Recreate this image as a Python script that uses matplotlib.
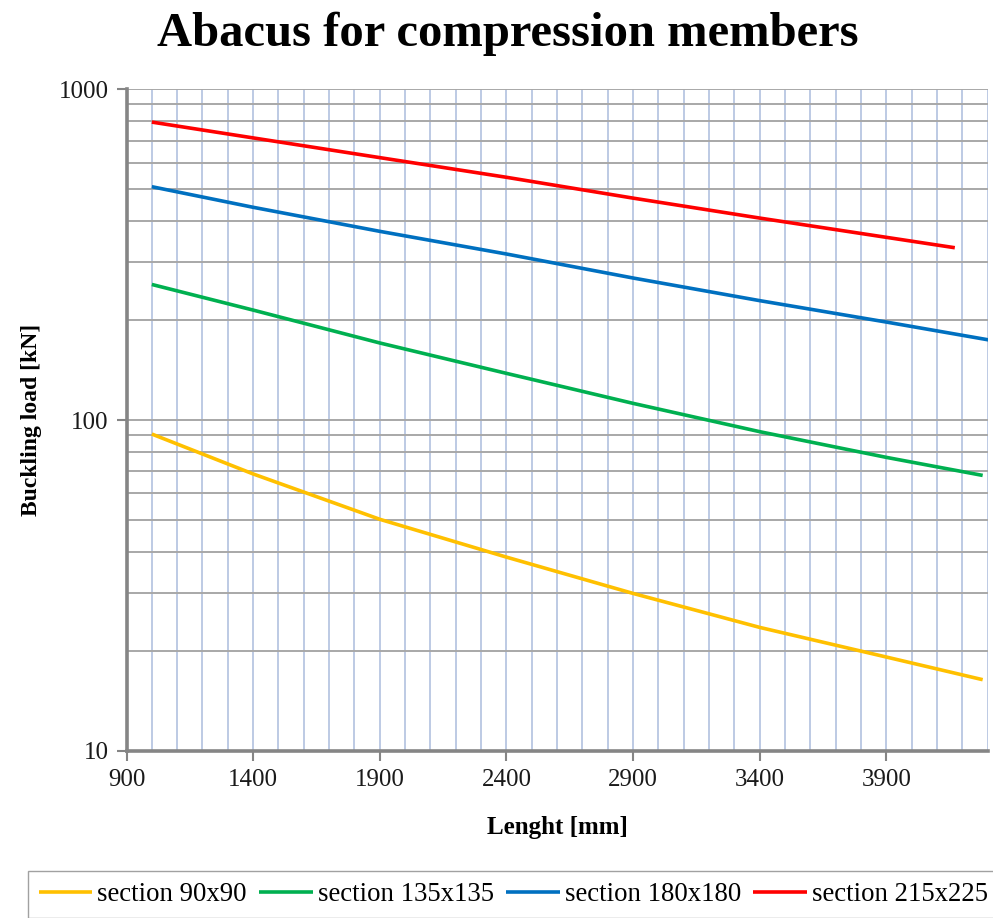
import matplotlib
matplotlib.use("Agg")
import matplotlib.pyplot as plt
from matplotlib.ticker import MultipleLocator, LogLocator, FixedLocator, NullFormatter

# Buckling load [kN] against member length [mm] for four timber sections
length_90 = [1000, 1400, 1900, 2400, 2900, 3400, 3900, 4280]
load_90 = [90.7, 68.7, 50.1, 38.5, 29.9, 23.6, 19.2, 16.4]

length_135 = [1000, 1400, 1900, 2400, 2900, 3400, 3900, 4280]
load_135 = [257, 215, 171, 138.4, 112.3, 92.2, 77.1, 68.0]

length_180 = [1000, 1400, 1900, 2400, 2900, 3400, 3900, 4300, 4320]
load_180 = [507.6, 439.8, 372, 317.7, 268.8, 229.6, 197.8, 174.9, 173.9]

length_215 = [1000, 1400, 1900, 2400, 2900, 3400, 3900, 4170]
load_215 = [796, 713, 621.5, 542, 468.8, 408, 356.8, 331.9]

series_labels = ["section 90x90", "section 135x135", "section 180x180", "section 215x225"]
series_colors = ["#FFC000", "#00B050", "#0070C0", "#FF0000"]

x_ticks = [900, 1400, 1900, 2400, 2900, 3400, 3900]
y_ticks = [10, 100, 1000]

serif = ["Liberation Serif", "DejaVu Serif"]
plt.rcParams["font.family"] = serif

fig = plt.figure(figsize=(9.93, 9.18), dpi=100)
ax = fig.add_axes([0.1274, 0.1822, 0.8673, 0.7205])

series = [(length_90, load_90), (length_135, load_135),
          (length_180, load_180), (length_215, load_215)]
for (xs, ys), lab, col in zip(series, series_labels, series_colors):
    ax.plot(xs, ys, color=col, lw=2.6, label=lab, solid_capstyle="butt",
            solid_joinstyle="round")

ax.set_yscale("log")
ax.set_xlim(900, 4300)
ax.set_ylim(10, 1000)

ax.xaxis.set_major_locator(FixedLocator(x_ticks))
ax.xaxis.set_minor_locator(MultipleLocator(100))
ax.yaxis.set_major_locator(FixedLocator(y_ticks))
ax.yaxis.set_minor_locator(LogLocator(base=10, subs=range(2, 10)))
ax.yaxis.set_minor_formatter(NullFormatter())
ax.set_xticklabels([str(v) for v in x_ticks])
ax.set_yticklabels([str(v) for v in y_ticks])

ax.grid(True, axis="x", which="both", color="#b7c6e2", lw=1.3)
ax.grid(True, axis="y", which="both", color="#a8a8a8", lw=1.4)
ax.set_axisbelow(True)

for s in ("top", "right"):
    ax.spines[s].set_visible(False)
for s in ("left", "bottom"):
    ax.spines[s].set_color("#858585")
    ax.spines[s].set_linewidth(2.6)

ax.tick_params(axis="both", which="major", length=7, width=1.5, color="#858585",
               labelsize=18, labelcolor="#1a1a1a", pad=6)
ax.tick_params(axis="both", which="minor", length=0)

ax.set_xlabel("Lenght [mm]", fontsize=18, fontweight="bold", labelpad=18)
ax.set_ylabel("Buckling load [kN]", fontsize=17, fontweight="bold", labelpad=12)

fig.text(0.511, 0.963, "Abacus for compression members", ha="center", va="center",
         fontsize=35, fontweight="bold")

fig.legend(loc="upper left", bbox_to_anchor=(0.028, 0.051), ncol=4,
           fontsize=19.3, frameon=True, fancybox=False, edgecolor="#8a8a8a",
           handlelength=2.0, handletextpad=0.2, columnspacing=0.45,
           borderpad=0.4, borderaxespad=0)

fig.savefig("out.png", dpi=100)
